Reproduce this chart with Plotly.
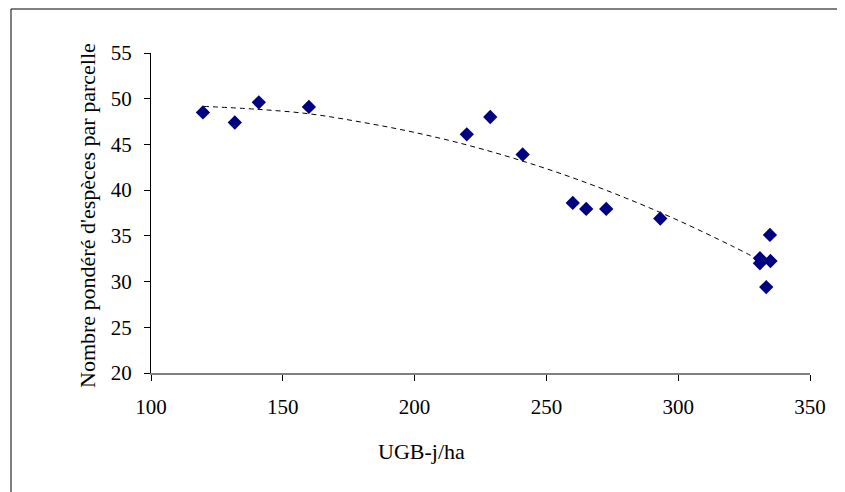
import plotly.graph_objects as go

# Observed data points (UGB-j/ha vs weighted species count per plot)
ugb = [119.7, 131.8, 140.9, 159.9, 219.8, 228.7, 241.0, 260.0, 265.1, 272.7,
       293.2, 334.8, 331.0, 331.0, 335.0, 333.4]
especes = [48.5, 47.4, 49.6, 49.1, 46.1, 48.0, 43.9, 38.6, 37.95, 37.95,
           36.9, 35.1, 32.55, 32.0, 32.25, 29.4]

# Trend line
trend_x = [120, 140, 160, 180, 200, 220, 240, 260, 280, 300, 320, 332]
trend_y = [49.16, 48.85, 48.35, 47.43, 46.31, 44.93, 43.27, 41.35, 39.15, 36.69, 33.95, 32.19]

x_ticks = [100, 150, 200, 250, 300, 350]
y_ticks = [20, 25, 30, 35, 40, 45, 50, 55]

x_title = "UGB-j/ha"
y_title = "Nombre pondéré d'espèces par parcelle"

FONT = "Liberation Serif, Times New Roman, serif"
FS = 21
FS_TITLE = 22

fig = go.Figure()
fig.add_trace(go.Scatter(
    x=trend_x, y=trend_y, mode="lines", line_shape="spline",
    line=dict(color="#000000", width=1, dash="5px,4px"),
    hoverinfo="skip", showlegend=False))
fig.add_trace(go.Scatter(
    x=ugb, y=especes, mode="markers",
    marker=dict(symbol="diamond", size=11, color="#000080",
                line=dict(width=0)),
    showlegend=False))

# page has an 8px body margin; offsets below are in figure coordinates
L, R, T, B = 143, 43, 45, 127
W, H = 845, 492
pw, ph = W - L - R, H - T - B
fig.add_shape(type="rect", xref="paper", yref="paper",
              x0=(3 - L) / pw, x1=(W + 10 - L) / pw,
              y0=(H - B - (H + 10)) / ph, y1=(H - B - 1) / ph,
              line=dict(color="#000000", width=1), fillcolor="rgba(0,0,0,0)",
              layer="above")

# axis titles placed like the original (centred on the chart area)
fig.add_annotation(text=x_title, xref="paper", yref="paper",
                   x=(413 - L) / pw, y=(H - B - 443) / ph,
                   xanchor="center", yanchor="middle", showarrow=False,
                   font=dict(family=FONT, size=FS_TITLE, color="#000000"))
fig.add_annotation(text=y_title, xref="paper", yref="paper",
                   x=(79 - L) / pw, y=(H - B - 208) / ph, textangle=-90,
                   xanchor="center", yanchor="middle", showarrow=False,
                   font=dict(family=FONT, size=FS_TITLE, color="#000000"))

fig.update_layout(
    width=W, height=H,
    margin=dict(l=L, r=R, t=T, b=B, pad=0),
    paper_bgcolor="white", plot_bgcolor="white",
    font=dict(family=FONT, size=FS, color="#000000"),
    xaxis=dict(range=[100, 350], tickvals=x_ticks, showgrid=False, zeroline=False,
               showline=True, linecolor="#808080", linewidth=2,
               ticks="outside", ticklen=6, tickcolor="#000000",
               ticklabelstandoff=8,
               tickfont=dict(family=FONT, size=FS)),
    yaxis=dict(range=[20, 55], tickvals=y_ticks, showgrid=False, zeroline=False,
               showline=True, linecolor="#000000", linewidth=1,
               ticks="outside", ticklen=6, tickcolor="#000000",
               ticklabelstandoff=8,
               tickfont=dict(family=FONT, size=FS)),
)

fig.write_html("out.html")
